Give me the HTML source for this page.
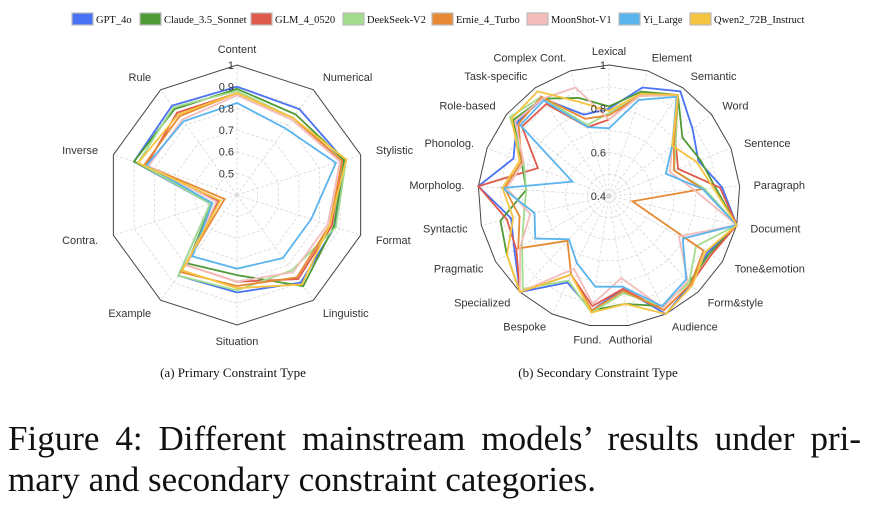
<!DOCTYPE html>
<html><head><meta charset="utf-8">
<style>
html,body{margin:0;padding:0;background:#fff;}
body{width:870px;height:508px;position:relative;overflow:hidden;font-family:"Liberation Serif",serif;}
svg{position:absolute;left:0;top:0;}
.fig{position:absolute;left:8px;width:853px;font-family:"Liberation Serif",serif;font-size:35px;color:#111;text-align:justify;text-align-last:justify;white-space:nowrap;line-height:1;}
</style></head>
<body>
<svg id="chart" width="870" height="400"></svg>
<div class="fig" style="top:421px;">Figure 4: Different mainstream models’ results under pri-</div>
<div class="fig" style="top:462px;text-align-last:left;">mary and secondary constraint categories.</div>
<script>
const models = ["GPT_4o","Claude_3.5_Sonnet","GLM_4_0520","DeekSeek-V2","Ernie_4_Turbo","MoonShot-V1","Yi_Large","Qwen2_72B_Instruct"];
const colors = ["#4a72f5","#4e9a35","#e05a4c","#a2dc8c","#e68a35","#f2bdbb","#5ab4ee","#f5c542"];
const legendX = [72,140,251,343,432,527,619,690];

const primaryCats = ["Content","Numerical","Stylistic","Format","Linguistic","Situation","Example","Contra.","Inverse","Rule"];
const primaryGPT      = [0.90,0.89,0.92,0.875,0.90,0.85,0.86,0.53,0.90,0.91];
const primaryClaude   = [0.89,0.86,0.92,0.87,0.92,0.77,0.79,0.52,0.90,0.89];
const primaryGLM      = [0.87,0.84,0.91,0.86,0.88,0.80,0.80,0.49,0.84,0.87];
const primaryDeepSeek = [0.88,0.84,0.93,0.88,0.83,0.84,0.86,0.53,0.88,0.90];
const primaryErnie    = [0.87,0.84,0.91,0.85,0.87,0.82,0.84,0.46,0.85,0.85];
const primaryMoonShot = [0.86,0.83,0.90,0.84,0.84,0.80,0.80,0.50,0.83,0.83];
const primaryYi       = [0.825,0.78,0.88,0.76,0.76,0.74,0.75,0.52,0.84,0.82];
const primaryQwen     = [0.87,0.84,0.93,0.85,0.91,0.83,0.83,0.48,0.88,0.86];
const primaryTicks = ["0.5","0.6","0.7","0.8","0.9","1"];

const secondaryCats = ["Lexical","Element","Semantic","Word","Sentence","Paragraph","Document","Tone&emotion","Form&style","Audience","Authorial","Fund.","Bespoke","Specialized","Pragmatic","Syntactic","Morpholog.","Phonolog.","Role-based","Task-specific","Complex Cont."];
const secondaryGPT      = [0.80,0.92,0.98,0.89,0.84,0.92,1.0,0.92,0.95,1.0,0.83,0.93,0.84,1.0,0.90,0.86,1.0,0.87,0.94,0.94,0.79];
const secondaryClaude   = [0.81,0.90,0.96,0.83,0.85,0.89,1.0,0.93,0.94,0.96,0.90,0.93,0.80,1.0,0.94,0.91,0.78,0.83,0.96,0.94,0.87];
const secondaryGLM      = [0.75,0.89,0.96,0.79,0.74,0.91,1.0,0.94,0.95,0.98,0.83,0.91,0.80,1.0,0.89,0.88,1.0,0.75,0.91,0.91,0.73];
const secondaryDeepSeek = [0.78,0.88,0.96,0.79,0.72,0.84,1.0,0.86,0.94,0.96,0.85,0.94,0.83,0.98,0.86,0.80,0.78,0.82,0.98,0.95,0.74];
const secondaryErnie    = [0.77,0.88,0.96,0.78,0.72,0.83,0.51,0.90,0.95,0.98,0.84,0.93,0.80,0.68,0.88,0.82,0.88,0.83,0.93,0.95,0.77];
const secondaryMoonShot = [0.75,0.88,0.96,0.77,0.70,0.79,1.0,0.77,0.93,0.97,0.78,0.90,0.77,1.0,0.87,0.77,0.87,0.82,0.95,0.94,0.92];
const secondaryYi       = [0.71,0.86,0.95,0.77,0.68,0.83,1.0,0.79,0.92,0.96,0.82,0.82,0.74,0.67,0.79,0.75,0.89,0.58,0.92,0.93,0.73];
const secondaryQwen     = [0.79,0.89,0.96,0.77,0.83,0.88,1.0,0.91,0.96,1.0,0.90,0.94,0.80,1.0,0.94,0.85,0.89,0.84,0.97,0.98,0.85];
const secondaryTicks = ["0.4","0.6","0.8","1"];

const NS = "http://www.w3.org/2000/svg";
const svg = document.getElementById("chart");
function mk(tag, attrs, parent){
  const e = document.createElementNS(NS, tag);
  for (const k in attrs) e.setAttribute(k, attrs[k]);
  (parent||svg).appendChild(e);
  return e;
}

models.forEach((m,i)=>{
  const g = mk("g",{});
  
  
  const r = mk("rect",{x:legendX[i],y:13,width:21,height:12,fill:colors[i],stroke:"#bbb","stroke-width":1.2},g);
  
  
  const t = mk("text",{x:legendX[i]+24,y:23,"font-size":"10.5","font-family":"Liberation Serif, serif",fill:"#111"},g);
  
  
  t.textContent = m;
});

function radar(cx, cy, R, vmin, vmax, cats, series, rings, ticks, tickVals, labelR, name){
  const g = mk("g",{});
  
  
  const n = cats.length;
  const ang = i => (i*2*Math.PI/n);
  const rad = v => (v-vmin)/(vmax-vmin)*R;
  const pt = (i,v) => [cx + rad(v)*Math.sin(ang(i)), cy - rad(v)*Math.cos(ang(i))];
  rings.forEach(rv=>{
    const pts = cats.map((c,i)=>pt(i,rv).join(",")).join(" ");
    const p = mk("polygon",{points:pts,fill:"none",stroke:"#d8d8d8","stroke-width":0.8,"stroke-dasharray":"3,2"},g);
    
    
  });
  cats.forEach((c,i)=>{
    const [x,y] = pt(i,vmax);
    const l = mk("line",{x1:cx,y1:cy,x2:x,y2:y,stroke:"#d8d8d8","stroke-width":0.8,"stroke-dasharray":"3,2"},g);
    
    
  });
  const outer = mk("polygon",{points:cats.map((c,i)=>pt(i,vmax).join(",")).join(" "),fill:"none",stroke:"#444","stroke-width":1},g);
  
  
  series.forEach((s,k)=>{
    const p = mk("polygon",{points:s.map((v,i)=>pt(i,v).join(",")).join(" "),fill:"none",stroke:colors[k],"stroke-width":1.8,"stroke-linejoin":"miter"},g);
    
    
  });
  ticks.forEach((t,j)=>{
    const tt = mk("text",{x:cx-3,y:cy-rad(tickVals[j])+4,"text-anchor":"end","font-size":"11","font-family":"Liberation Sans, sans-serif",fill:"#333"},g);
    
    
    tt.textContent = t;
  });
  cats.forEach((c,i)=>{
    const a = ang(i);
    const sx = Math.sin(a), cyv = -Math.cos(a);
    const x = cx + labelR*sx, y = cy + labelR*cyv + 4;
    let anchor = "middle";
    if (sx > 0.2) anchor = "start"; else if (sx < -0.2) anchor = "end";
    const t = mk("text",{x:x,y:y,"text-anchor":anchor,"font-size":"11","font-family":"Liberation Sans, sans-serif",fill:"#333"},g);
    
    
    t.textContent = c;
  });
}

radar(237,195,130,0.4,1.0,primaryCats,
  [primaryGPT,primaryClaude,primaryGLM,primaryDeepSeek,primaryErnie,primaryMoonShot,primaryYi,primaryQwen],
  [0.5,0.6,0.7,0.8,0.9],primaryTicks,[0.5,0.6,0.7,0.8,0.9,1.0],146,"primary-radar");

radar(609,196,131,0.4,1.0,secondaryCats,
  [secondaryGPT,secondaryClaude,secondaryGLM,secondaryDeepSeek,secondaryErnie,secondaryMoonShot,secondaryYi,secondaryQwen],
  [0.5,0.6,0.7,0.8,0.9],secondaryTicks,[0.4,0.6,0.8,1.0],145,"secondary-radar");

[["(a) Primary Constraint Type",233],["(b) Secondary Constraint Type",598]].forEach(([s,x])=>{
  const t = mk("text",{x:x,y:377,"text-anchor":"middle","font-size":"13","font-family":"Liberation Serif, serif",fill:"#111"});
  
  
  t.textContent = s;
});
</script>
</body></html>
